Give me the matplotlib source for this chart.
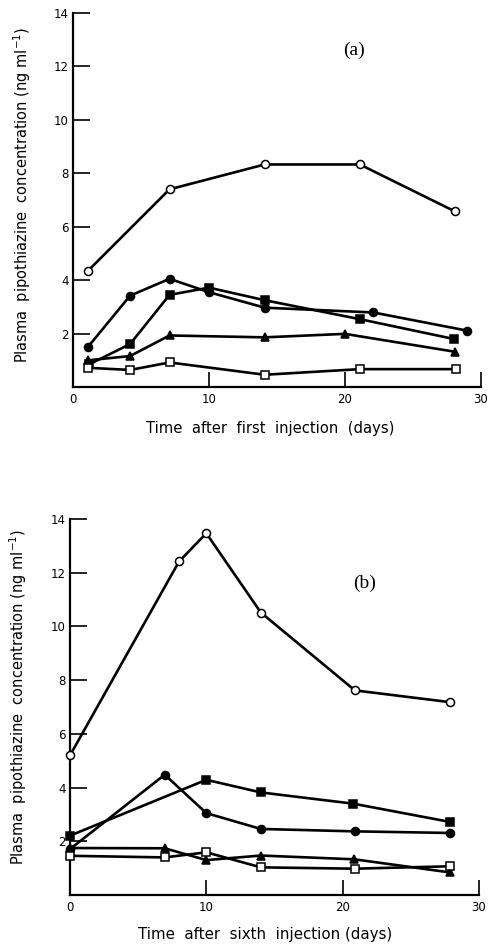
import matplotlib
matplotlib.use("Agg")
import matplotlib.pyplot as plt

# panel (a): after first injection
a_open_circle_x = [1.1, 7.1, 14.1, 21.1, 28.1]
a_open_circle_y = [4.35, 7.4, 8.33, 8.33, 6.57]
a_circle_x = [1.1, 4.2, 7.1, 10.0, 14.1, 22.1, 29.0]
a_circle_y = [1.5, 3.42, 4.05, 3.55, 2.97, 2.79, 2.11]
a_square_x = [1.2, 4.2, 7.1, 10.0, 14.1, 21.1, 28.0]
a_square_y = [0.85, 1.61, 3.45, 3.72, 3.25, 2.54, 1.8]
a_tri_x = [1.1, 4.2, 7.1, 14.1, 20.0, 28.1]
a_tri_y = [1.0, 1.16, 1.93, 1.86, 1.99, 1.32]
a_open_square_x = [1.1, 4.2, 7.1, 14.1, 21.1, 28.2]
a_open_square_y = [0.72, 0.64, 0.92, 0.46, 0.67, 0.67]

# panel (b): after sixth injection
b_open_circle_x = [0.0, 8.0, 10.0, 14.0, 20.9, 27.9]
b_open_circle_y = [5.2, 12.42, 13.47, 10.52, 7.62, 7.18]
b_circle_x = [0.0, 6.95, 10.0, 14.0, 20.9, 27.9]
b_circle_y = [1.71, 4.48, 3.05, 2.46, 2.37, 2.31]
b_square_x = [0.0, 10.0, 14.0, 20.8, 27.9]
b_square_y = [2.21, 4.29, 3.82, 3.4, 2.72]
b_tri_x = [0.0, 6.95, 10.0, 14.0, 20.85, 27.9]
b_tri_y = [1.75, 1.74, 1.3, 1.47, 1.33, 0.84]
b_open_square_x = [0.0, 6.95, 10.0, 14.0, 20.9, 27.9]
b_open_square_y = [1.46, 1.4, 1.59, 1.03, 0.98, 1.07]

yticks = [2, 4, 6, 8, 10, 12, 14]
xticks = [0, 10, 20, 30]
ylabel = "Plasma  pipothiazine  concentration (ng ml$^{-1}$)"

fig = plt.figure(figsize=(4.98, 9.47), dpi=100)


def draw_series(ax, x, y, marker, filled):
    ax.plot(x, y, color="black", lw=1.9, marker=marker, ms=5.8 if marker != "^" else 5.5,
            mfc="black" if filled else "white", mec="black", mew=1.1, clip_on=False, zorder=3)


def setup(ax, label_x, label_y):
    ax.set_xlim(0, 30)
    ax.set_ylim(0, 14)
    ax.spines["top"].set_visible(False)
    ax.spines["right"].set_visible(False)
    ax.spines["left"].set_linewidth(1.6)
    ax.spines["bottom"].set_linewidth(1.6)
    ax.set_yticks(yticks)
    ax.set_xticks(xticks)
    ax.tick_params(axis="y", direction="in", length=12, width=1.2, labelsize=8.5, pad=3)
    ax.tick_params(axis="x", direction="in", length=11, width=1.2, labelsize=8.5, pad=4)
    ax.set_ylabel(ylabel, fontsize=10.5)
    ax.yaxis.set_label_coords(label_x, label_y)


ax1 = fig.add_axes([0.1466, 0.5913, 0.819, 0.395])
draw_series(ax1, a_open_circle_x, a_open_circle_y, "o", False)
draw_series(ax1, a_circle_x, a_circle_y, "o", True)
draw_series(ax1, a_square_x, a_square_y, "s", True)
draw_series(ax1, a_tri_x, a_tri_y, "^", True)
draw_series(ax1, a_open_square_x, a_open_square_y, "s", False)
setup(ax1, -0.098, 0.513)
ax1.text(0.483, -0.11, "Time  after  first  injection  (days)", transform=ax1.transAxes,
         ha="center", va="center", fontsize=10.6)
ax1.text(0.69, 0.9, "(a)", transform=ax1.transAxes, ha="center", va="center",
         fontsize=14, family="Liberation Serif")

ax2 = fig.add_axes([0.1406, 0.0549, 0.821, 0.397])
draw_series(ax2, b_open_circle_x, b_open_circle_y, "o", False)
draw_series(ax2, b_circle_x, b_circle_y, "o", True)
draw_series(ax2, b_square_x, b_square_y, "s", True)
draw_series(ax2, b_tri_x, b_tri_y, "^", True)
draw_series(ax2, b_open_square_x, b_open_square_y, "s", False)
setup(ax2, -0.1, 0.527)
ax2.text(0.477, -0.106, "Time  after  sixth  injection (days)", transform=ax2.transAxes,
         ha="center", va="center", fontsize=10.8)
ax2.text(0.72, 0.83, "(b)", transform=ax2.transAxes, ha="center", va="center",
         fontsize=14, family="Liberation Serif")

fig.savefig("out.png", dpi=100)
